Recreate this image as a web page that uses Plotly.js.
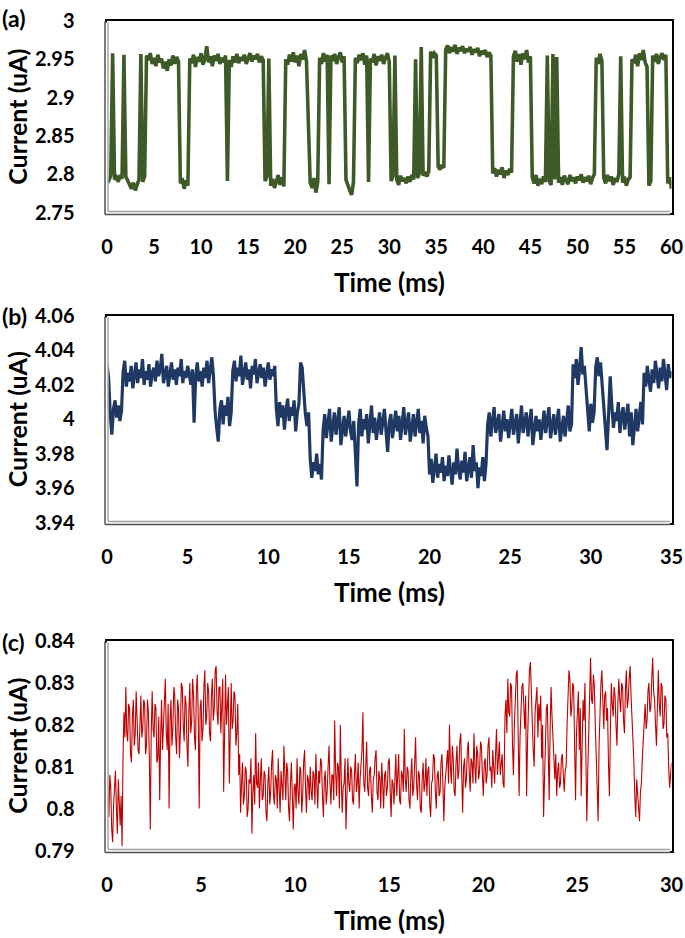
<!DOCTYPE html>
<html>
<head>
<meta charset="utf-8">
<script src="https://cdn.plot.ly/plotly-3.0.1.min.js"></script>
<style>html,body{margin:0;padding:0;background:#fff;}#chart{width:685px;height:938px;}</style>
</head>
<body>
<div id="chart"></div>
<script>
// ---------- DATA ----------
// Panel (a): sampled every 0.2 ms from 0 to 60 ms
const sampleStepA = 0.2;
const currentA = [
2.795,2.792,2.798,2.958,2.793, 2.796,2.790,2.799,2.794,2.956,
2.797,2.792,2.786,2.781,2.789, 2.779,2.786,2.793,2.957,2.790,
2.797,2.955,2.949,2.958,2.944, 2.952,2.941,2.956,2.946,2.951,
2.938,2.947,2.935,2.950,2.942, 2.955,2.944,2.953,2.947,2.788,
2.795,2.781,2.792,2.785,2.951, 2.945,2.956,2.940,2.953,2.947,
2.958,2.943,2.950,2.967,2.946, 2.954,2.941,2.955,2.948,2.957,
2.944,2.952,2.946,2.955,2.791, 2.949,2.940,2.954,2.946,2.957,
2.945,2.953,2.948,2.956,2.944, 2.952,2.958,2.947,2.955,2.950,
2.957,2.946,2.954,2.949,2.791, 2.797,2.951,2.785,2.794,2.782,
2.790,2.799,2.786,2.796,2.784, 2.950,2.943,2.956,2.947,2.959,
2.946,2.955,2.941,2.957,2.950, 2.962,2.948,2.868,2.789,2.782,
2.795,2.776,2.790,2.952,2.944, 2.958,2.947,2.956,2.787,2.955,
2.948,2.957,2.944,2.953,2.959, 2.946,2.954,2.793,2.785,2.779,
2.773,2.790,2.952,2.945,2.956, 2.949,2.958,2.943,2.955,2.790,
2.951,2.946,2.957,2.942,2.954, 2.948,2.956,2.944,2.952,2.958,
2.947,2.791,2.797,2.955,2.793, 2.786,2.798,2.791,2.795,2.788,
2.797,2.790,2.799,2.793,2.950, 2.795,2.801,2.966,2.798,2.803,
2.797,2.804,2.960,2.952,2.958, 2.955,2.810,2.806,2.812,2.808,
2.963,2.968,2.958,2.966,2.960, 2.969,2.957,2.965,2.961,2.967,
2.958,2.964,2.960,2.966,2.956, 2.963,2.959,2.965,2.954,2.961,
2.957,2.962,2.953,2.959,2.955, 2.801,2.808,2.797,2.806,2.800,
2.809,2.795,2.805,2.799,2.807, 2.802,2.954,2.961,2.947,2.957,
2.943,2.958,2.950,2.962,2.946, 2.954,2.796,2.788,2.799,2.785,
2.794,2.787,2.797,2.790,2.955, 2.791,2.786,2.957,2.793,2.953,
2.789,2.796,2.786,2.798,2.792, 2.787,2.799,2.791,2.796,2.788,
2.797,2.792,2.800,2.789,2.796, 2.791,2.798,2.787,2.795,2.800,
2.952,2.944,2.957,2.948,2.795, 2.788,2.799,2.791,2.797,2.786,
2.795,2.790,2.800,2.954,2.789, 2.797,2.785,2.793,2.796,2.950,
2.945,2.956,2.941,2.958,2.949, 2.962,2.946,2.940,2.785,2.791,
2.955,2.947,2.957,2.944,2.953, 2.958,2.949,2.956,2.788,2.796,
2.781
];

// Panel (b): sampled every 0.1 ms from 0 to 35 ms
const sampleStepB = 0.1;
const currentB = [
4.032,4.024,4.003,3.991,4.006,4.011,4.001,4.008,3.999,4.005,
4.028,4.034,4.019,4.027,4.022,4.031,4.018,4.026,4.033,4.021,
4.029,4.024,4.035,4.020,4.028,4.023,4.032,4.019,4.027,4.030,
4.022,4.034,4.025,4.029,4.038,4.021,4.027,4.031,4.019,4.026,
4.033,4.023,4.029,4.020,4.030,4.025,4.035,4.021,4.028,4.024,
4.031,4.026,4.020,4.029,3.998,4.025,4.033,4.022,4.028,4.019,
4.030,4.024,4.034,4.021,4.027,4.036,4.025,4.005,3.995,3.987,
4.006,4.011,3.997,4.008,4.002,4.013,3.996,4.004,4.028,4.034,
4.022,4.030,4.025,4.037,4.020,4.028,4.033,4.023,4.029,4.018,
4.031,4.026,4.035,4.021,4.027,4.032,4.024,4.030,4.019,4.028,
4.033,4.023,4.029,4.025,4.031,4.006,3.996,4.010,4.001,4.008,
3.994,4.005,4.012,3.999,4.007,4.002,4.011,3.993,4.004,4.009,
4.033,4.030,4.016,4.003,3.996,4.004,3.977,3.966,3.975,3.970,
3.980,3.968,3.974,3.965,3.994,4.003,3.989,3.998,4.006,3.987,
3.996,4.004,3.991,3.999,4.007,3.985,3.995,4.002,3.990,3.998,
4.005,3.993,3.988,3.999,3.975,3.961,3.997,4.006,3.990,4.000,
3.994,4.003,3.986,3.997,4.008,3.992,4.001,3.988,3.996,4.004,
3.991,3.999,4.006,3.993,3.981,3.998,4.003,3.989,3.997,4.005,
3.993,4.002,3.988,3.997,4.007,3.991,3.999,4.004,3.987,3.996,
4.003,3.990,3.998,4.006,3.992,3.999,3.986,4.002,3.995,3.990,
3.968,3.977,3.963,3.972,3.980,3.966,3.974,3.969,3.978,3.964,
3.973,3.967,3.979,3.970,3.962,3.975,3.968,3.983,3.971,3.965,
3.976,3.969,3.981,3.964,3.973,3.978,3.966,3.985,3.970,3.975,
3.960,3.972,3.967,3.978,3.964,3.974,3.997,4.004,3.990,3.999,
4.007,3.992,3.998,4.003,3.987,3.996,4.005,3.993,4.000,3.989,
3.998,4.006,3.991,3.997,4.003,3.986,3.995,4.008,3.992,3.999,
4.004,3.990,3.997,4.006,3.985,3.996,4.002,3.993,4.000,3.988,
3.997,4.005,3.992,3.999,4.007,3.989,3.996,4.003,3.991,3.998,
4.006,3.987,3.995,4.002,3.990,3.999,4.008,3.993,3.997,4.032,
4.024,4.035,4.020,4.029,4.042,4.026,4.031,4.018,4.004,3.993,
4.009,3.998,4.004,4.030,4.036,4.025,4.033,4.021,4.006,3.996,
3.982,4.003,4.025,4.008,3.995,4.004,3.999,4.010,3.992,4.002,
4.007,3.994,4.001,4.009,3.990,4.004,3.985,3.998,4.006,3.993,
4.003,4.010,3.997,4.027,4.019,4.031,4.023,4.016,4.029,4.021,
4.034,4.024,4.018,4.030,4.022,4.035,4.026,4.017,4.032,4.024,
4.028
];

// Panel (c): sampled every 0.05 ms from 0 to 30 ms
const sampleStepC = 0.05;
const currentC = [
0.810,0.802,0.798,0.808,0.805,0.795,0.792,0.801,0.804,0.809,0.800,0.794,0.807,0.799,0.796,0.803,0.791,0.812,0.823,0.817,
0.829,0.818,0.816,0.825,0.824,0.813,0.811,0.822,0.826,0.815,0.818,0.828,0.822,0.814,0.813,0.824,0.827,0.817,0.819,0.826,
0.825,0.813,0.815,0.826,0.823,0.812,0.795,0.818,0.828,0.819,0.817,0.825,0.824,0.811,0.812,0.822,0.802,0.817,0.826,0.814,
0.820,0.827,0.831,0.818,0.814,0.825,0.800,0.821,0.826,0.815,0.819,0.829,0.827,0.817,0.813,0.826,0.824,0.812,0.818,0.830,
0.829,0.820,0.816,0.827,0.825,0.815,0.810,0.823,0.830,0.818,0.821,0.831,0.827,0.817,0.814,0.828,0.832,0.822,0.800,0.824,
0.826,0.816,0.819,0.829,0.833,0.820,0.822,0.830,0.828,0.818,0.816,0.827,0.831,0.821,0.824,0.833,0.834,0.823,0.820,0.829,
0.829,0.818,0.823,0.831,0.804,0.822,0.832,0.820,0.825,0.829,0.806,0.824,0.830,0.819,0.821,0.828,0.827,0.815,0.818,0.825,
0.808,0.813,0.799,0.806,0.811,0.801,0.803,0.810,0.809,0.798,0.800,0.807,0.806,0.812,0.794,0.804,0.808,0.801,0.818,0.806,
0.805,0.811,0.800,0.807,0.812,0.802,0.803,0.809,0.808,0.799,0.797,0.806,0.810,0.801,0.804,0.811,0.814,0.803,0.801,0.808,
0.807,0.800,0.812,0.805,0.799,0.809,0.806,0.802,0.815,0.807,0.802,0.811,0.809,0.800,0.797,0.806,0.811,0.803,0.795,0.805,
0.806,0.800,0.812,0.804,0.801,0.810,0.809,0.799,0.803,0.811,0.814,0.805,0.799,0.808,0.807,0.802,0.810,0.804,0.802,0.809,
0.808,0.801,0.813,0.806,0.800,0.809,0.806,0.812,0.811,0.803,0.798,0.807,0.809,0.801,0.804,0.810,0.815,0.806,0.801,0.808,
0.808,0.802,0.821,0.809,0.803,0.811,0.810,0.800,0.820,0.807,0.799,0.805,0.806,0.812,0.795,0.803,0.812,0.806,0.804,0.810,
0.809,0.802,0.801,0.808,0.813,0.804,0.806,0.811,0.800,0.807,0.811,0.814,0.823,0.806,0.804,0.810,0.816,0.805,0.803,0.809,
0.810,0.803,0.799,0.807,0.808,0.812,0.814,0.804,0.802,0.809,0.807,0.800,0.811,0.806,0.800,0.808,0.809,0.803,0.805,0.811,
0.812,0.804,0.798,0.807,0.806,0.801,0.810,0.813,0.803,0.808,0.813,0.802,0.801,0.809,0.808,0.804,0.819,0.807,0.804,0.810,
0.809,0.802,0.800,0.808,0.812,0.803,0.805,0.811,0.817,0.806,0.802,0.809,0.808,0.800,0.799,0.807,0.811,0.804,0.806,0.812,
0.803,0.809,0.810,0.801,0.798,0.806,0.807,0.813,0.812,0.804,0.800,0.808,0.809,0.803,0.804,0.811,0.813,0.806,0.797,0.805,
0.808,0.813,0.814,0.806,0.820,0.810,0.806,0.815,0.812,0.804,0.803,0.811,0.815,0.807,0.809,0.816,0.818,0.808,0.799,0.810,
0.812,0.805,0.807,0.814,0.816,0.809,0.804,0.812,0.811,0.806,0.818,0.810,0.806,0.815,0.813,0.807,0.809,0.816,0.815,0.808,
0.803,0.811,0.812,0.806,0.808,0.815,0.817,0.809,0.810,0.805,0.814,0.810,0.806,0.813,0.819,0.808,0.811,0.816,0.808,0.812,
0.813,0.806,0.805,0.822,0.826,0.818,0.831,0.823,0.822,0.830,0.829,0.815,0.808,0.820,0.827,0.832,0.833,0.821,0.803,0.817,
0.824,0.829,0.830,0.822,0.819,0.827,0.803,0.816,0.828,0.833,0.835,0.824,0.821,0.814,0.810,0.823,0.826,0.829,0.817,0.825,
0.821,0.827,0.812,0.820,0.798,0.809,0.815,0.824,0.825,0.811,0.802,0.819,0.829,0.822,0.816,0.810,0.807,0.813,0.803,0.809,
0.811,0.805,0.806,0.812,0.813,0.808,0.804,0.809,0.810,0.820,0.827,0.833,0.831,0.822,0.824,0.830,0.829,0.812,0.802,0.818,
0.822,0.828,0.814,0.824,0.803,0.815,0.826,0.821,0.830,0.812,0.797,0.809,0.820,0.829,0.836,0.826,0.825,0.832,0.829,0.820,
0.812,0.804,0.797,0.815,0.826,0.830,0.833,0.824,0.819,0.827,0.828,0.821,0.824,0.811,0.803,0.818,0.830,0.825,0.822,0.829,
0.827,0.820,0.815,0.825,0.831,0.826,0.823,0.830,0.829,0.821,0.818,0.828,0.833,0.824,0.826,0.831,0.834,0.827,0.822,0.816,
0.811,0.803,0.798,0.807,0.803,0.799,0.797,0.804,0.806,0.812,0.816,0.822,0.825,0.819,0.821,0.828,0.830,0.823,0.824,0.831,
0.836,0.828,0.826,0.820,0.815,0.824,0.833,0.825,0.822,0.830,0.829,0.819,0.820,0.827,0.826,0.817,0.818,0.810,0.805,0.808,
0.811
];

// Tick values and labels
const xTicksA = [0,5,10,15,20,25,30,35,40,45,50,55,60];
const xTicksB = [0,5,10,15,20,25,30,35];
const xTicksC = [0,5,10,15,20,25,30];
const yTicksA = [2.75,2.8,2.85,2.9,2.95,3];
const yLabelsA = ["2.75","2.8","2.85","2.9","2.95","3"];
const yTicksB = [3.94,3.96,3.98,4,4.02,4.04,4.06];
const yLabelsB = ["3.94","3.96","3.98","4","4.02","4.04","4.06"];
const yTicksC = [0.79,0.8,0.81,0.82,0.83,0.84];
const yLabelsC = ["0.79","0.8","0.81","0.82","0.83","0.84"];
const panelLabels = ["(a)","(b)","(c)"];
const xTitle = "Time (ms)";
const yTitle = "Current (uA)";

// ---------- LAYOUT ----------
const W = 685, H = 938;
const px = v => v / W;
const py = v => 1 - v / H;
const boxL = 107, boxR = 671.5;
const boxes = [ {T:21, B:212.5}, {T:316, B:522.5}, {T:641, B:850.5} ];
const FONT = "Lato, 'Open Sans', sans-serif";
const TICKFONT = {family:FONT, size:20, color:'#000', weight:700};
const TITLEFONT = {family:FONT, size:26, color:'#000', weight:700};
const YTITLEFONT = {family:FONT, size:25, color:'#000', weight:700};

function xAxis(ticks, range, anchor) {
  return {
    domain:[px(boxL), px(boxR)], range:range, anchor:anchor,
    tickmode:'array', tickvals:ticks, ticktext:ticks.map(String),
    showgrid:false, zeroline:false,
    showline:true, mirror:true, linecolor:'#000000', linewidth:2.5,
    ticks:'outside', ticklen:15, tickcolor:'rgba(0,0,0,0)',
    tickfont:TICKFONT, fixedrange:true
  };
}
function yAxis(ticks, labels, range, box, anchor) {
  return {
    domain:[py(box.B), py(box.T)], range:range, anchor:anchor,
    tickmode:'array', tickvals:ticks, ticktext:labels,
    showgrid:false, zeroline:false,
    showline:true, mirror:true, linecolor:'#000000', linewidth:2.5,
    ticks:'outside', ticklen:26, tickcolor:'rgba(0,0,0,0)',
    tickfont:TICKFONT, fixedrange:true
  };
}

const traces = [
  {type:'scatter', mode:'lines', y:currentA, x0:0, dx:sampleStepA, xaxis:'x', yaxis:'y',
   line:{color:'#3d5a27', width:3.6}, hoverinfo:'skip'},
  {type:'scatter', mode:'lines', y:currentB, x0:0, dx:sampleStepB, xaxis:'x2', yaxis:'y2',
   line:{color:'#203864', width:3.2}, hoverinfo:'skip'},
  {type:'scatter', mode:'lines', y:currentC, x0:0, dx:sampleStepC, xaxis:'x3', yaxis:'y3',
   line:{color:'#c00000', width:1.1}, hoverinfo:'skip'}
];

// Excel-style frame: gray double line on the left and bottom edges
const shapes = [];
boxes.forEach(b => {
  const base = {type:'line', xref:'paper', yref:'paper', layer:'above'};
  shapes.push(Object.assign({}, base, {x0:px(boxL-0.5), x1:px(boxL-0.5), y0:py(b.T+1.5), y1:py(b.B+2), line:{color:'#ffffff', width:3.5}}));
  shapes.push(Object.assign({}, base, {x0:px(boxL-1), x1:px(boxR-1.5), y0:py(b.B+0.5), y1:py(b.B+0.5), line:{color:'#ffffff', width:3.5}}));
  shapes.push(Object.assign({}, base, {x0:px(boxL-2), x1:px(boxL-2), y0:py(b.T+0.5), y1:py(b.B+2), line:{color:'#505050', width:1.5}}));
  shapes.push(Object.assign({}, base, {x0:px(boxL+1), x1:px(boxL+1), y0:py(b.T+1.5), y1:py(b.B-1), line:{color:'#a0a0a0', width:1.4}}));
  shapes.push(Object.assign({}, base, {x0:px(boxL-2), x1:px(boxR-1.3), y0:py(b.B+2), y1:py(b.B+2), line:{color:'#505050', width:1.5}}));
  shapes.push(Object.assign({}, base, {x0:px(boxL+1), x1:px(boxR-1.3), y0:py(b.B-1), y1:py(b.B-1), line:{color:'#a0a0a0', width:1.4}}));
});

const labelY = [18, 316, 642];
const xTitleY = [282, 592, 920];
const annotations = [];
panelLabels.forEach((t, i) => {
  annotations.push({text:t, xref:'paper', yref:'paper', x:0, y:py(labelY[i]), xanchor:'left', yanchor:'middle',
    showarrow:false, font:{family:FONT, size:23, color:'#000', weight:700}});
  annotations.push({text:xTitle, xref:'paper', yref:'paper', x:px((boxL+boxR)/2), y:py(xTitleY[i]),
    xanchor:'center', yanchor:'middle', showarrow:false, font:TITLEFONT});
  annotations.push({text:yTitle, xref:'paper', yref:'paper', x:px(17), y:py((boxes[i].T+boxes[i].B)/2),
    xanchor:'center', yanchor:'middle', textangle:-90, showarrow:false, font:YTITLEFONT});
});

const layout = {
  width:W, height:H, margin:{l:0, r:0, t:0, b:0, autoexpand:false},
  paper_bgcolor:'#fff', plot_bgcolor:'#fff', showlegend:false,
  xaxis: xAxis(xTicksA, [0,60], 'y'),
  yaxis: yAxis(yTicksA, yLabelsA, [2.75,3], boxes[0], 'x'),
  xaxis2: xAxis(xTicksB, [0,35], 'y2'),
  yaxis2: yAxis(yTicksB, yLabelsB, [3.94,4.06], boxes[1], 'x2'),
  xaxis3: xAxis(xTicksC, [0,30], 'y3'),
  yaxis3: yAxis(yTicksC, yLabelsC, [0.79,0.84], boxes[2], 'x3'),
  shapes: shapes, annotations: annotations
};

Plotly.newPlot('chart', traces, layout, {staticPlot:true, displayModeBar:false});
</script>
</body>
</html>
